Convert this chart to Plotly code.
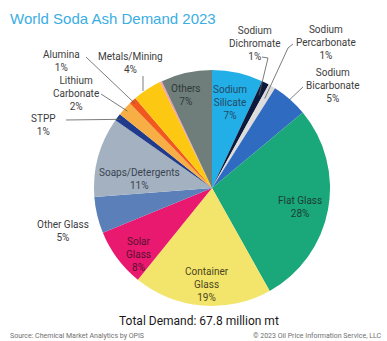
import math
import plotly.graph_objects as go

# Soda ash demand by end use, share of total (%), clockwise from 12 o'clock
segments = ["Sodium Silicate", "Sodium Dichromate", "Sodium Percarbonate",
            "Sodium Bicarbonate", "Flat Glass", "Container Glass", "Solar Glass",
            "Other Glass", "Soaps/Detergents", "STPP", "Lithium Carbonate",
            "Alumina", "Metals/Mining", "Other Minor", "Others"]
shares = [7, 1, 1, 5, 28, 19, 8, 5, 11, 1, 2, 1, 4, 0.3, 7]
colors = ["#22aee6", "#0e1a3c", "#dcdcdc", "#2f6bc0", "#1aa77a", "#f3e56b",
          "#e8196e", "#5b7fb8", "#a3b1c1", "#203b8c", "#f7ae45", "#f0581e",
          "#fdc812", "#f2a0a8", "#6f7d7b"]
total_demand = 67.8

W, H = 387, 341
CX, CY, R = 212, 188, 118


def px(x, y):
    return x / W, 1 - y / H


def slice_point(name, frac):
    """Point on the bisector of a slice, at frac * radius, in pixels."""
    i = segments.index(name)
    tot = sum(shares)
    start = sum(shares[:i]) / tot
    mid = (start + shares[i] / tot / 2) * 2 * math.pi
    return CX + frac * R * math.sin(mid), CY - frac * R * math.cos(mid)


def pct(name):
    return f"{shares[segments.index(name)]:g}%"


fig = go.Figure(go.Pie(
    labels=segments, values=shares, sort=False, direction="clockwise",
    rotation=0, marker=dict(colors=colors, line=dict(width=0)),
    textinfo="none", hoverinfo="label+percent", showlegend=False,
    domain=dict(x=[(CX - R) / W, (CX + R) / W],
                y=[1 - (CY + R) / H, 1 - (CY - R) / H]),
))

label_font = dict(family="Roboto, Arial, sans-serif", size=10, color="#3c3c3c")
ann = []


def label(text, x, y, color="#3c3c3c", align="center"):
    ax, ay = px(x, y)
    ann.append(dict(text=text, x=ax, y=ay, xref="paper", yref="paper",
                    xanchor="center", yanchor="middle",
                    showarrow=False, align=align,
                    font=dict(label_font, color=color)))


# Labels inside the larger slices
label(f"Sodium<br>Silicate<br>{pct('Sodium Silicate')}", 230, 103, "#244a66")
label(f"Others<br>{pct('Others')}", 186, 95, "#2e3a38")
label(f"Soaps/Detergents<br>{pct('Soaps/Detergents')}", 139, 179, "#3a4450")
label(f"Flat Glass<br>{pct('Flat Glass')}", 300, 207, "#1d3d33")
label(f"Container<br>Glass<br>{pct('Container Glass')}", 207, 284, "#4b4520")
label(f"Solar<br>Glass<br>{pct('Solar Glass')}", 138, 254, "#5a1030")

# Labels outside the pie
label(f"Other Glass<br>{pct('Other Glass')}", 63, 231)
label(f"STPP<br>{pct('STPP')}", 43, 125)
label(f"Lithium<br>Carbonate<br>{pct('Lithium Carbonate')}", 76, 93)
label(f"Alumina<br>{pct('Alumina')}", 62, 61)
label(f"Metals/Mining<br>{pct('Metals/Mining')}", 130, 63)
label(f"Sodium<br>Dichromate<br>{pct('Sodium Dichromate')}", 255, 43)
label(f"Sodium<br>Percarbonate<br>{pct('Sodium Percarbonate')}", 326, 42)
label(f"Sodium<br>Bicarbonate<br>{pct('Sodium Bicarbonate')}", 333, 85)

# Leader lines: fixed start near the text, end computed on the slice bisector
leaders = [
    ("STPP", [(66, 120)], 0.97),
    ("Lithium Carbonate", [(101, 94)], 0.97),
    ("Alumina", [(86, 57)], 0.97),
    ("Metals/Mining", [(143, 76)], None),
    ("Sodium Dichromate", [(262, 57), (268, 58)], 0.88),
    ("Sodium Percarbonate", [(293, 44), (288, 48)], 0.88),
    ("Sodium Bicarbonate", [(303, 87)], 0.99),
]
shapes = []
for name, pts, frac in leaders:
    if frac is None:
        ex, ey = pts[0][0], 91
    else:
        ex, ey = slice_point(name, frac)
    path_pts = pts + [(ex, ey)]
    d = "M " + " L ".join(f"{px(x, y)[0]:.4f},{px(x, y)[1]:.4f}" for x, y in path_pts)
    shapes.append(dict(type="path", path=d, xref="paper", yref="paper",
                       line=dict(color="#5a5a5a", width=0.8)))

# Title, total and footers
ann.append(dict(text="World Soda Ash Demand 2023", x=8 / W, y=1 - 19 / H,
                xref="paper", yref="paper", xanchor="left", yanchor="middle",
                showarrow=False,
                font=dict(family="Liberation Sans, Arial, sans-serif", size=15,
                          color="#3aaee3")))
ann.append(dict(text=f"Total Demand: {total_demand} million mt", x=199 / W,
                y=1 - 321 / H, xref="paper", yref="paper", xanchor="center",
                yanchor="middle", showarrow=False,
                font=dict(family="Roboto, Arial, sans-serif", size=12,
                          color="#1a1a1a")))
ann.append(dict(text="Source: Chemical Market Analytics by OPIS", x=8 / W,
                y=1 - 336 / H, xref="paper", yref="paper", xanchor="left",
                yanchor="middle", showarrow=False,
                font=dict(family="Roboto, Arial, sans-serif", size=7,
                          color="#707070")))
ann.append(dict(text="© 2023 Oil Price Information Service, LLC", x=384 / W,
                y=1 - 336 / H, xref="paper", yref="paper", xanchor="right",
                yanchor="middle", showarrow=False,
                font=dict(family="Roboto, Arial, sans-serif", size=7,
                          color="#707070")))

fig.update_layout(width=W, height=H, margin=dict(l=0, r=0, t=0, b=0),
                  paper_bgcolor="white", plot_bgcolor="white",
                  annotations=ann, shapes=shapes)

fig.write_html("out.html")
